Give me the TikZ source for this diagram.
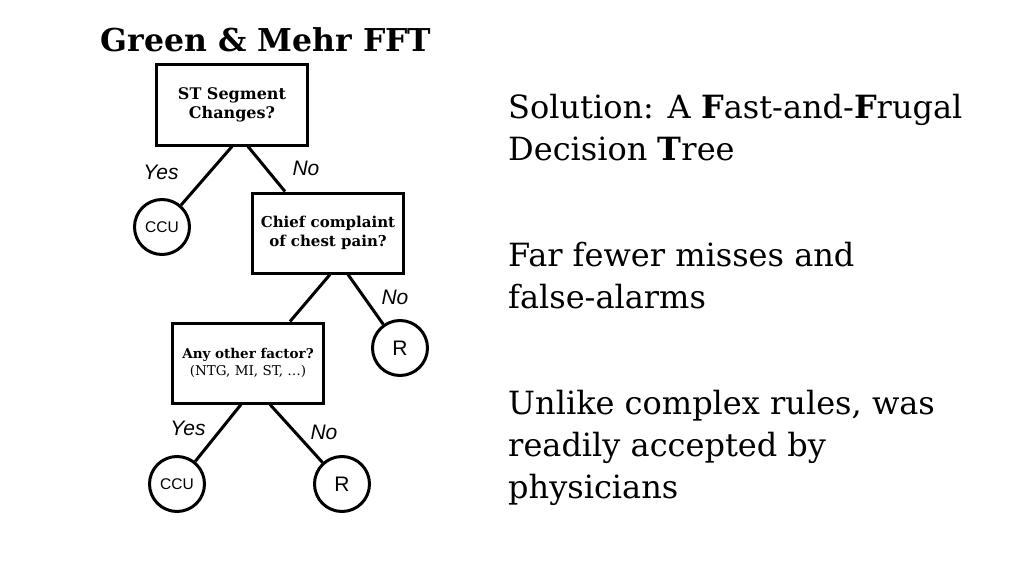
\documentclass[tikz,border=0pt]{standalone}
\usepackage{fontspec}
\setmainfont{DejaVu Serif}
\setsansfont{Liberation Sans}

\begin{document}
\begin{tikzpicture}[x=1pt,y=-1pt]
				\useasboundingbox (0,0) rectangle (1026,578);

				\node[font=\bfseries\fontsize{31.5}{34}\selectfont] (T) at (266,40) {Green \& Mehr FFT};

				\begin{scope}[every node/.style={rectangle,draw,line width=3pt,minimum width=151pt,minimum height=80pt,inner sep=2pt,align=center,font=\bfseries\fontsize{16}{19.5}\selectfont}]
                    \node (A) at (232,105) {ST Segment\\Changes?};
                    \node[font=\bfseries\fontsize{15}{19.5}\selectfont] (B) at (328,233) {Chief complaint\\of chest pain?};
                    \node[font=\bfseries\fontsize{13.5}{17}\selectfont] (C) at (248,363) {Any other factor?\\{\mdseries (NTG, MI, ST, \dots)}};
                \end{scope}

				\begin{scope}[every node/.style={circle,draw,line width=3pt,minimum size=55pt,inner sep=0pt,font=\sffamily}]
                    \node[font=\sffamily\fontsize{15.5}{18}\selectfont] (D) at (162,227) {CCU};
                    \node[font=\sffamily\fontsize{21}{24}\selectfont] (E) at (400,348) {R};
                    \node[font=\sffamily\fontsize{15.5}{18}\selectfont] (F) at (177,484) {CCU};
                    \node[font=\sffamily\fontsize{21}{24}\selectfont] (G) at (342,484) {R};
                \end{scope}

                \begin{scope}[every edge/.style={draw=black,line width=3pt}]
                    \path (A.south) edge node {} (D);
                    \path ([xshift=16pt]A.south) edge node {} ([xshift=-43pt]B.north);
                    \path ([xshift=2pt]B.south) edge node {} ([xshift=42pt]C.north);
                    \path ([xshift=20pt]B.south) edge node {} (E);
                    \path ([xshift=-7pt]C.south) edge node {} (F);
                    \path ([xshift=22pt]C.south) edge node {} (G);
                \end{scope}

                \begin{scope}[every node/.style={font=\sffamily\itshape\fontsize{21}{24}\selectfont}]
                    \node (y1) at (161,172) {Yes};
                    \node (n1) at (306,168) {No};
                    \node (n2) at (395,297) {No};
                    \node (y2) at (188,428) {Yes};
                    \node (n3) at (324,432) {No};
                \end{scope}

                \begin{scope}[every node/.style={anchor=north west,align=left,inner sep=0pt,font=\fontsize{32}{42}\selectfont}]
                    \node (s1) at (508,94) {Solution: A \textbf{F}ast-and-\textbf{F}rugal\\Decision \textbf{T}ree};
                    \node (s2) at (508,242) {Far fewer misses and\\false-alarms};
                    \node (s3) at (508,390) {Unlike complex rules, was\\readily accepted by\\physicians};
                \end{scope}
			\end{tikzpicture}
\end{document}
